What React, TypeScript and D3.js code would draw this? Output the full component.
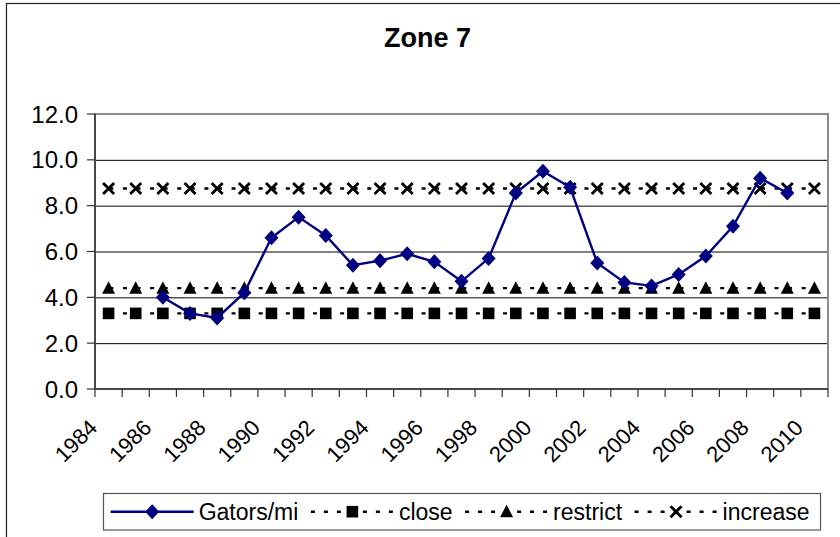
import React, { useEffect, useRef } from "react";
import * as d3 from "d3";

const years = [
  "1984", "1985", "1986", "1987", "1988", "1989", "1990", "1991", "1992",
  "1993", "1994", "1995", "1996", "1997", "1998", "1999", "2000", "2001",
  "2002", "2003", "2004", "2005", "2006", "2007", "2008", "2009", "2010",
];

// Gators/mi, 1986-2009
const gatorYears = [
  "1986", "1987", "1988", "1989", "1990", "1991", "1992", "1993", "1994",
  "1995", "1996", "1997", "1998", "1999", "2000", "2001", "2002", "2003",
  "2004", "2005", "2006", "2007", "2008", "2009",
];
const gatorValues = [
  4.0, 3.3, 3.1, 4.2, 6.6, 7.5, 6.7, 5.4, 5.6, 5.9, 5.55, 4.7, 5.7, 8.55, 9.5,
  8.8, 5.5, 4.65, 4.5, 5.0, 5.8, 7.1, 9.2, 8.55,
];

const closeValue = 3.3;
const restrictValue = 4.4;
const increaseValue = 8.75;

const yTicks = [0, 2, 4, 6, 8, 10, 12];
const xLabels = years.filter((d, i) => i % 2 === 0);

const legendNames = ["Gators/mi", "close", "restrict", "increase"];

export default function App() {
  const ref = useRef(null);

  useEffect(() => {
    drawChart();
  }, []);

  function drawChart() {
    const width = 840;
    const height = 537;
    const font = "'Liberation Sans', Arial, sans-serif";

    const svg = d3.select(ref.current);
    svg.selectAll("*").remove();
    svg.attr("width", width).attr("height", height);

    svg.append("rect").attr("width", width).attr("height", height).attr("fill", "white");

    // chart area border (runs off the right/bottom edges)
    svg
      .append("rect")
      .attr("x", 6.5)
      .attr("y", 3.5)
      .attr("width", 860)
      .attr("height", 560)
      .attr("fill", "none")
      .attr("stroke", "#222")
      .attr("stroke-width", 1.2);

    const left = 95,
      right = 828,
      top = 114,
      bottom = 389;

    const x = d3.scaleBand().domain(years).range([left, right]).padding(0);
    const bw = x.bandwidth();
    const cx = (d) => x(d) + bw / 2;
    const y = d3.scaleLinear().domain([0, 12]).range([bottom, top]);

    // title
    svg
      .append("text")
      .attr("x", 427.5)
      .attr("y", 46.5)
      .attr("text-anchor", "middle")
      .attr("font-family", font)
      .attr("font-weight", "bold")
      .attr("font-size", 27)
      .text("Zone 7");

    // gridlines
    svg
      .append("g")
      .selectAll("line")
      .data(yTicks.filter((d) => d > 0 && d < 12))
      .join("line")
      .attr("x1", left)
      .attr("x2", right)
      .attr("y1", (d) => y(d) + 0.5)
      .attr("y2", (d) => y(d) + 0.5)
      .attr("stroke", "#000")
      .attr("stroke-width", 1);

    // plot area border
    svg
      .append("rect")
      .attr("x", left)
      .attr("y", top)
      .attr("width", right - left)
      .attr("height", bottom - top)
      .attr("fill", "none")
      .attr("stroke", "#8c8c8c")
      .attr("stroke-width", 2);

    // axes
    svg
      .append("line")
      .attr("x1", left)
      .attr("x2", left)
      .attr("y1", top)
      .attr("y2", bottom)
      .attr("stroke", "#333")
      .attr("stroke-width", 1.5);
    svg
      .append("line")
      .attr("x1", left)
      .attr("x2", right)
      .attr("y1", bottom)
      .attr("y2", bottom)
      .attr("stroke", "#333")
      .attr("stroke-width", 1.5);

    // y ticks + labels
    const yg = svg.append("g");
    yg.selectAll("line")
      .data(yTicks)
      .join("line")
      .attr("x1", left - 8)
      .attr("x2", left)
      .attr("y1", (d) => y(d))
      .attr("y2", (d) => y(d))
      .attr("stroke", "#333")
      .attr("stroke-width", 1.2);
    yg.selectAll("text")
      .data(yTicks)
      .join("text")
      .attr("x", 78)
      .attr("y", (d) => y(d))
      .attr("dy", "0.36em")
      .attr("text-anchor", "end")
      .attr("font-family", font)
      .attr("font-size", 24)
      .text((d) => d.toFixed(1));

    // x ticks at category boundaries
    const boundaries = years.map((d) => x(d)).concat([right]);
    svg
      .append("g")
      .selectAll("line")
      .data(boundaries)
      .join("line")
      .attr("x1", (d) => d)
      .attr("x2", (d) => d)
      .attr("y1", bottom)
      .attr("y2", bottom + 8)
      .attr("stroke", "#333")
      .attr("stroke-width", 1.2);

    svg
      .append("g")
      .selectAll("text")
      .data(xLabels)
      .join("text")
      .attr("transform", (d) => `translate(${cx(d) - 10},${bottom + 40}) rotate(-45)`)
      .attr("text-anchor", "end")
      .attr("font-family", font)
      .attr("font-size", 22)
      .text((d) => d);

    // marker shapes
    const square = (g, px, py) =>
      g
        .append("rect")
        .attr("x", px - 5.8)
        .attr("y", py - 5.8)
        .attr("width", 11.6)
        .attr("height", 11.6)
        .attr("fill", "#000");
    const triangle = (g, px, py) =>
      g
        .append("path")
        .attr("d", `M${px},${py - 7}L${px + 6.5},${py + 5.5}L${px - 6.5},${py + 5.5}Z`)
        .attr("fill", "#000");
    const cross = (g, px, py) =>
      g
        .append("path")
        .attr(
          "d",
          `M${px - 5.5},${py - 5.5}L${px + 5.5},${py + 5.5}M${px + 5.5},${py - 5.5}L${px - 5.5},${py + 5.5}`
        )
        .attr("stroke", "#000")
        .attr("stroke-width", 2.8)
        .attr("fill", "none");
    const diamond = (g, px, py) =>
      g
        .append("path")
        .attr("d", `M${px},${py - 7.5}L${px + 7},${py}L${px},${py + 7.5}L${px - 7},${py}Z`)
        .attr("fill", "#000080");

    const half = bw / 2;
    const dash = `4 ${half - 4}`;

    const constants = [
      { v: closeValue, m: square },
      { v: restrictValue, m: triangle },
      { v: increaseValue, m: cross },
    ];

    constants.forEach((c) => {
      const g = svg.append("g");
      g.append("line")
        .attr("x1", cx(years[0]))
        .attr("x2", cx(years[years.length - 1]))
        .attr("y1", y(c.v))
        .attr("y2", y(c.v))
        .attr("stroke", "#000")
        .attr("stroke-width", 2.4)
        .attr("stroke-dasharray", dash)
        .attr("stroke-dashoffset", -0.8);
      years.forEach((yr) => c.m(g, cx(yr), y(c.v)));
    });

    // Gators/mi line
    const line = d3
      .line()
      .x((d, i) => cx(gatorYears[i]))
      .y((d) => y(d));
    const gg = svg.append("g");
    gg.append("path")
      .attr("d", line(gatorValues))
      .attr("fill", "none")
      .attr("stroke", "#000080")
      .attr("stroke-width", 2.4);
    gatorValues.forEach((v, i) => diamond(gg, cx(gatorYears[i]), y(v)));

    // legend
    const lg = svg.append("g");
    const box = lg
      .append("rect")
      .attr("x", 103.5)
      .attr("y", 493.5)
      .attr("height", 36.5)
      .attr("fill", "white")
      .attr("stroke", "#555")
      .attr("stroke-width", 1.2);
    const markers = [diamond, square, triangle, cross];
    const ly = 511.7;
    let lx = 110.7;
    const sw = 83;
    legendNames.forEach((name, i) => {
      const l = lg
        .append("line")
        .attr("x1", lx)
        .attr("x2", lx + sw)
        .attr("y1", ly)
        .attr("y2", ly)
        .attr("stroke", i === 0 ? "#000080" : "#000")
        .attr("stroke-width", 2.4);
      if (i > 0) l.attr("stroke-dasharray", "4 9");
      markers[i](lg, lx + sw / 2, ly);
      const t = lg
        .append("text")
        .attr("x", lx + sw + 5)
        .attr("y", ly)
        .attr("dy", "0.36em")
        .attr("font-family", font)
        .attr("font-size", 23)
        .text(name);
      const tw = t.node().getComputedTextLength();
      lx = lx + sw + 5 + tw + 12.5;
    });
    box.attr("width", lx - 12.5 + 11 - 103.5);
  }

  return (
    <div>
      <svg ref={ref} style={{ position: "absolute", left: 0, top: 0 }}></svg>
    </div>
  );
}
